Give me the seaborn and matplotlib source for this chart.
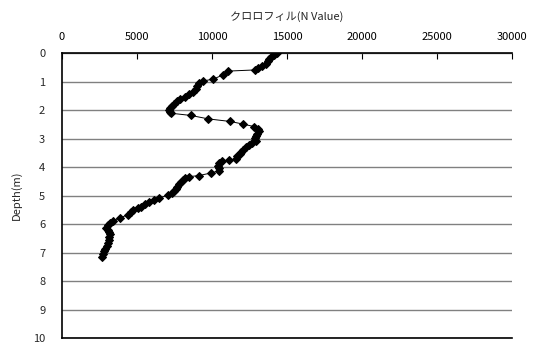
import numpy as np
import pandas as pd
import matplotlib
matplotlib.use('Agg')
import matplotlib.pyplot as plt
import seaborn as sns

# 深さ(m)
depth = [0.00, 0.05, 0.12, 0.20, 0.28, 0.36, 0.45, 0.52, 0.58, 0.62,
         0.75, 0.90, 0.97, 1.05, 1.15, 1.25, 1.35, 1.43, 1.52, 1.60,
         1.68, 1.76, 1.84, 1.92, 1.98, 2.05, 2.10, 2.18, 2.30, 2.39,
         2.48, 2.57, 2.66, 2.74, 2.82, 2.90, 2.98, 3.06, 3.15, 3.22,
         3.30, 3.38, 3.46, 3.54, 3.62, 3.70, 3.76, 3.79, 3.86, 3.95,
         4.04, 4.12, 4.20, 4.29, 4.33, 4.38, 4.45, 4.52, 4.60, 4.68,
         4.76, 4.84, 4.92, 4.97, 5.08, 5.14, 5.22, 5.30, 5.38, 5.44,
         5.50, 5.58, 5.67, 5.78, 5.88, 5.96, 6.04, 6.12, 6.20, 6.28,
         6.36, 6.46, 6.56, 6.66, 6.76, 6.86, 6.96, 7.06, 7.16]

# クロロフィル (N Value)
chl = [14300, 14100, 13900, 13800, 13700, 13600, 13350, 13100, 12850, 11100,
       10750, 10100, 9400, 9150, 9000, 8950, 8750, 8450, 8200, 7900,
       7650, 7500, 7350, 7200, 7150, 7200, 7250, 8600, 9750, 11200,
       12050, 12800, 13050, 13150, 13000, 12950, 12900, 12950, 12650, 12500,
       12250, 12050, 11950, 11850, 11700, 11600, 11150, 10650, 10500, 10400,
       10450, 10500, 9950, 9150, 8500, 8200, 8050, 7950, 7800, 7700,
       7600, 7500, 7350, 7100, 6500, 6150, 5800, 5550, 5300, 5100,
       4750, 4600, 4400, 3850, 3400, 3200, 3050, 2950, 3050, 3150,
       3200, 3150, 3150, 3050, 3000, 2900, 2800, 2750, 2650]

df = pd.DataFrame({'depth': depth, 'chl': chl})

sns.set_style('white')
plt.rcParams['font.family'] = ['Noto Sans CJK JP', 'DejaVu Sans']

fig = plt.figure(figsize=(5.53, 3.47), dpi=100)
ax = fig.add_axes([0.112, 0.026, 0.814, 0.82])

ax.set_ylim(10, 0)
ax.set_xlim(0, 30000)
ax.set_yticks(range(0, 11))
ax.set_xticks(range(0, 30001, 5000))
ax.yaxis.grid(True, color='#808080', linewidth=1.0)
ax.xaxis.grid(False)

sns.lineplot(data=df, x='chl', y='depth', orient='y', estimator=None, sort=False,
             color='black', linewidth=0.7, marker='D', markersize=3.6,
             markeredgecolor='black', ax=ax, zorder=3)

ax.set_ylim(10, 0)
ax.xaxis.tick_top()
ax.xaxis.set_label_position('top')
ax.set_xlabel('クロロフィル(N Value)', fontsize=8, labelpad=9)
ax.set_ylabel('Depth(m)', fontsize=8, labelpad=8)
ax.tick_params(axis='x', direction='in', length=4, width=0.8, labelsize=8, pad=8, colors='black')
ax.tick_params(axis='y', direction='in', length=0, labelsize=8, pad=12)

for s in ['top', 'left', 'bottom']:
    ax.spines[s].set_visible(True)
    ax.spines[s].set_color('black')
    ax.spines[s].set_linewidth(1.2)
ax.spines['right'].set_visible(False)

fig.savefig('out.png', dpi=100)
